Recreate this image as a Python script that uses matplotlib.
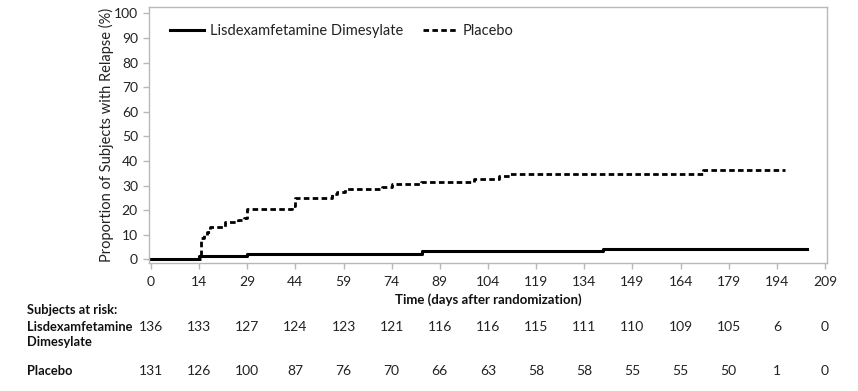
import matplotlib
matplotlib.use("Agg")
import matplotlib.pyplot as plt
import matplotlib.transforms as mtransforms

plt.rcParams['font.family'] = ['Lato', 'DejaVu Sans']

# axis positions run 0..210, tick labels read as days after randomization
tick_pos = [0, 15, 30, 45, 60, 75, 90, 105, 120, 135, 150, 165, 180, 195, 210]
tick_labels = ["0", "14", "29", "44", "59", "74", "89", "104", "119", "134",
               "149", "164", "179", "194", "209"]

# Kaplan-Meier style cumulative relapse (%), step changes
lis_x = [0, 15.0, 30.0, 84.4, 140.8, 204.4]
lis_y = [0, 1.4, 2.2, 3.4, 4.0, 4.0]

plc_x = [0, 15.5, 16.5, 17.5, 18.5, 23, 27, 29, 30, 44, 45, 56.5, 58, 60.5,
         72, 75, 84, 100.5, 108.5, 112, 172, 197.5]
plc_y = [0, 8.5, 10, 11, 13, 15, 16, 17, 20.5, 21.5, 25, 26.5, 27.3, 28.5,
         29.4, 30.6, 31.4, 32.6, 33.9, 34.7, 36.3, 36.3]

risk_lis = [136, 133, 127, 124, 123, 121, 116, 116, 115, 111, 110, 109, 105, 6, 0]
risk_plc = [131, 126, 100, 87, 76, 70, 66, 63, 58, 58, 55, 55, 50, 1, 0]

fig = plt.figure(figsize=(8.58, 3.91), dpi=100)
ax = fig.add_axes([149 / 858, 1 - 263 / 391, (827 - 149) / 858, (263 - 7) / 391])

ax.step(lis_x, lis_y, where="post", color="black", lw=2.2,
        label="Lisdexamfetamine Dimesylate")
line, = ax.step(plc_x, plc_y, where="post", color="black", lw=2.0,
                label="Placebo")
line.set_dashes((2.0, 1.2))

ax.set_xlim(-0.6, 210.6)
ax.set_ylim(-1.5, 102.6)
ax.set_xticks(tick_pos)
ax.set_xticklabels(tick_labels)
ax.set_yticks(range(0, 101, 10))

for s in ax.spines.values():
    s.set_color("#b8b8b8")
    s.set_linewidth(1.0)
ax.tick_params(axis="both", colors="#b8b8b8", labelcolor="#222222",
               labelsize=10, length=4, width=1.0)
ax.tick_params(axis="x", pad=5)
ax.tick_params(axis="y", pad=4)

ax.set_ylabel("Proportion of Subjects with Relapse (%)", fontsize=10.5,
              color="#222222", labelpad=0)
ax.set_xlabel("Time (days after randomization)", fontsize=9.5, fontweight="bold",
              color="#111111", labelpad=4)

leg = ax.legend(loc="upper left", ncol=2, frameon=False, fontsize=10.5,
                handlelength=2.3, handletextpad=0.4, columnspacing=1.4,
                bbox_to_anchor=(0.012, 0.985))
for t in leg.get_texts():
    t.set_color("#222222")

# at-risk table
trans = mtransforms.blended_transform_factory(ax.transData, fig.transFigure)
for x, a, b in zip(tick_pos, risk_lis, risk_plc):
    ax.text(x, 1 - 327 / 391, str(a), transform=trans, ha="center", va="center",
            fontsize=10, color="#222222", clip_on=False)
    ax.text(x, 1 - 371 / 391, str(b), transform=trans, ha="center", va="center",
            fontsize=10, color="#222222", clip_on=False)

fig.text(27 / 858, 1 - 310 / 391, "Subjects at risk:", fontsize=9.3,
         fontweight="bold", va="center", ha="left", color="#111111")
fig.text(27 / 858, 1 - 327 / 391, "Lisdexamfetamine", fontsize=9.3,
         fontweight="bold", va="center", ha="left", color="#111111")
fig.text(27 / 858, 1 - 342 / 391, "Dimesylate", fontsize=9.3,
         fontweight="bold", va="center", ha="left", color="#111111")
fig.text(27 / 858, 1 - 371 / 391, "Placebo", fontsize=9.3,
         fontweight="bold", va="center", ha="left", color="#111111")

fig.savefig("out.png", dpi=100, facecolor="white")
